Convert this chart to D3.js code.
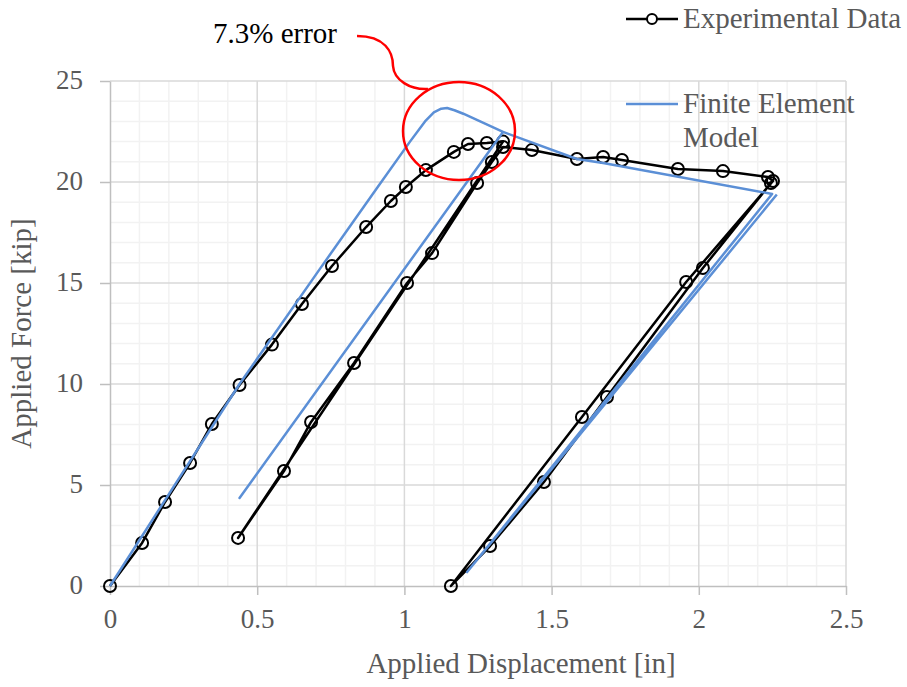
<!DOCTYPE html>
<html><head><meta charset="utf-8">
<script src="https://cdn.jsdelivr.net/npm/d3@7"></script>
<style>
html,body{margin:0;padding:0;background:#fff;}
svg{display:block;font-family:"Liberation Serif","Times New Roman",serif;}
</style></head>
<body>
<svg id="chart" width="907" height="687"></svg>
<script>
// ---- Data ----
const xTicks = [0, 0.5, 1, 1.5, 2, 2.5];
const xTickLabels = ["0", "0.5", "1", "1.5", "2", "2.5"];
const yTicks = [0, 5, 10, 15, 20, 25];
const yTickLabels = ["0", "5", "10", "15", "20", "25"];
const seriesNames = ["Experimental Data", "Finite Element Model"];

// Experimental data (displacement [in], force [kip])
const expX = [0, 0.109, 0.187, 0.272, 0.346, 0.44, 0.55, 0.652, 0.754, 0.87, 0.954, 1.005, 1.073, 1.168, 1.216, 1.28, 1.335,
  0.435,
  0.591, 0.683, 0.829, 1.009, 1.094, 1.247, 1.297, 1.335,
  1.433, 1.586, 1.675, 1.739, 1.929, 2.082, 2.235, 2.252,
  1.957, 1.603, 1.158,
  1.291, 1.474, 1.688, 2.014, 2.245];
const expY = [0, 2.13, 4.16, 6.09, 8.02, 9.95, 11.95, 13.96, 15.84, 17.77, 19.06, 19.75, 20.59, 21.49, 21.88, 21.93, 22.0,
  2.38,
  5.69, 8.12, 11.04, 15.0, 16.48, 19.95, 20.99, 21.73,
  21.58, 21.14, 21.24, 21.09, 20.64, 20.54, 20.25, 20.05,
  15.05, 8.37, 0,
  1.98, 5.15, 9.36, 15.74, 19.95];

// Finite element model
const feX = [0, 0.44, 0.713, 0.907, 1.019, 1.07, 1.1, 1.125, 1.145, 1.17, 1.2, 1.335, 0.44, 1.335, 1.586, 1.675, 2.249, 1.213, 2.265];
const feY = [0, 10.0, 15.7, 19.7, 22.0, 23.0, 23.45, 23.63, 23.66, 23.55, 23.38, 22.48, 4.36, 22.48, 21.14, 20.94, 19.41, 0.69, 19.38];

const annotationText = "7.3% error";

// ---- Chart ----
const svg = d3.select("#chart");
const pL = 110, pR = 846, pT = 81, pB = 586;
const x = d3.scaleLinear().domain([0, 2.5]).range([pL, pR]);
const y = d3.scaleLinear().domain([0, 25]).range([pB, pT]);

const grid = svg.append("g");
// minor gridlines
grid.selectAll("line.mx").data(d3.range(1, 25).filter(v => v % 5 !== 0).map(i => i / 10))
  .join("line").attr("class", "mx").attr("x1", d => x(d)).attr("x2", d => x(d)).attr("y1", y(0)).attr("y2", y(25))
  .attr("stroke", "#f2f2f2").attr("stroke-width", 1.5);
grid.selectAll("line.my").data(d3.range(1, 25).filter(v => v % 5 !== 0))
  .join("line").attr("class", "my").attr("x1", x(0)).attr("x2", x(2.5)).attr("y1", d => y(d)).attr("y2", d => y(d))
  .attr("stroke", "#f2f2f2").attr("stroke-width", 1.5);
// major gridlines
grid.selectAll("line.gx").data(xTicks.slice(1))
  .join("line").attr("class", "gx").attr("x1", d => x(d)).attr("x2", d => x(d)).attr("y1", y(0)).attr("y2", y(25))
  .attr("stroke", "#d9d9d9").attr("stroke-width", 1.5);
grid.selectAll("line.gy").data(yTicks.slice(1))
  .join("line").attr("class", "gy").attr("x1", x(0)).attr("x2", x(2.5)).attr("y1", d => y(d)).attr("y2", d => y(d))
  .attr("stroke", "#d9d9d9").attr("stroke-width", 1.5);

// axes
const xAxis = d3.axisBottom(x).tickValues(xTicks).tickFormat((d, i) => xTickLabels[i]).tickSize(9).tickSizeOuter(0);
const yAxis = d3.axisLeft(y).tickValues(yTicks).tickFormat((d, i) => yTickLabels[i]).tickSize(10).tickSizeOuter(0).tickPadding(17);
const gx = svg.append("g").attr("transform", `translate(0,${pB})`).call(xAxis);
const gy = svg.append("g").attr("transform", `translate(${pL},0)`).call(yAxis);
[gx, gy].forEach(g => {
  g.select(".domain").attr("stroke", "#bfbfbf").attr("stroke-width", 1.5);
  g.selectAll(".tick line").attr("stroke", "#bfbfbf").attr("stroke-width", 1.5);
  g.selectAll(".tick text").attr("fill", "#595959").attr("font-size", 27)
    .attr("font-family", "'Liberation Serif','Times New Roman',serif");
});
gx.selectAll(".tick text").attr("y", 42).attr("dy", "0");
gy.selectAll(".tick text").attr("dy", "0.27em");

// axis titles
svg.append("text").attr("x", 521).attr("y", 673).attr("text-anchor", "middle")
  .attr("fill", "#595959").attr("font-size", 29).text("Applied Displacement [in]");
svg.append("text").attr("transform", `translate(31,${(pT + pB) / 2}) rotate(-90)`).attr("text-anchor", "middle")
  .attr("fill", "#595959").attr("font-size", 29).text("Applied Force [kip]");

// series
const expData = expX.map((v, i) => [v, expY[i]]);
const feData = feX.map((v, i) => [v, feY[i]]);
const line = d3.line().x(d => x(d[0])).y(d => y(d[1]));

svg.append("path").datum(expData).attr("d", line).attr("fill", "none")
  .attr("stroke", "#000").attr("stroke-width", 2.5).attr("stroke-linejoin", "round");
svg.append("g").selectAll("circle").data(expData).join("circle")
  .attr("cx", d => x(d[0])).attr("cy", d => y(d[1])).attr("r", 6)
  .attr("fill", "none").attr("stroke", "#000").attr("stroke-width", 2);

svg.append("path").datum(feData).attr("d", line).attr("fill", "none")
  .attr("stroke", "#5b8fd6").attr("stroke-width", 2.5).attr("stroke-linejoin", "round");

// legend
const lg = svg.append("g");
lg.append("line").attr("x1", 626).attr("x2", 678).attr("y1", 19).attr("y2", 19).attr("stroke", "#000").attr("stroke-width", 2.5);
lg.append("circle").attr("cx", 652).attr("cy", 19).attr("r", 5).attr("fill", "#fff").attr("stroke", "#000").attr("stroke-width", 2);
lg.append("text").attr("x", 683).attr("y", 28).attr("fill", "#595959").attr("font-size", 29).text(seriesNames[0]);
lg.append("line").attr("x1", 626).attr("x2", 678).attr("y1", 104).attr("y2", 104).attr("stroke", "#5b8fd6").attr("stroke-width", 2.5);
const t2 = lg.append("text").attr("x", 683).attr("y", 113).attr("fill", "#595959").attr("font-size", 29);
t2.append("tspan").attr("x", 683).text("Finite Element");
t2.append("tspan").attr("x", 683).attr("dy", 34).text("Model");

// annotation
svg.append("ellipse").attr("cx", 459).attr("cy", 131).attr("rx", 56).attr("ry", 49)
  .attr("fill", "none").attr("stroke", "#ff0000").attr("stroke-width", 2.5);
svg.append("path").attr("d", "M357,36 C385,36 393,52 393,66 C394,80 410,90 428,89")
  .attr("fill", "none").attr("stroke", "#ff0000").attr("stroke-width", 2.5);
svg.append("text").attr("x", 213).attr("y", 43).attr("fill", "#000").attr("font-size", 29).text(annotationText);
</script>
</body></html>
